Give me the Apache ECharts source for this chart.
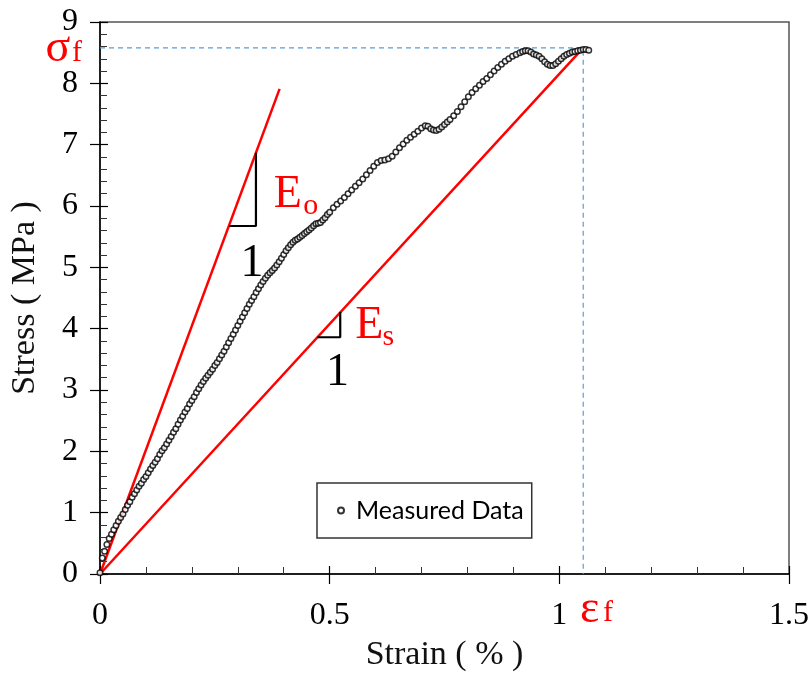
<!DOCTYPE html>
<html><head><meta charset="utf-8">
<script src="https://cdn.jsdelivr.net/npm/echarts@6/dist/echarts.min.js"></script>
<style>html,body{margin:0;padding:0;background:#fff}#c{width:812px;height:681px}</style>
</head><body><div id="c"></div>
<script>
// ---- data ----
const strain = [0.000,0.005,0.010,0.015,0.020,0.025,0.030,0.035,0.040,0.045,0.050,0.055,0.060,0.065,0.070,0.075,0.080,0.085,0.090,0.095,
0.100,0.105,0.110,0.115,0.120,0.125,0.130,0.135,0.140,0.145,0.150,0.155,0.160,0.165,0.170,0.175,0.180,0.185,0.190,0.195,
0.200,0.205,0.210,0.215,0.220,0.225,0.230,0.235,0.240,0.245,0.250,0.255,0.260,0.265,0.270,0.275,0.280,0.285,0.290,0.295,
0.300,0.305,0.310,0.315,0.320,0.325,0.330,0.335,0.340,0.345,0.350,0.355,0.360,0.365,0.370,0.375,0.380,0.385,0.390,0.395,
0.400,0.405,0.410,0.415,0.420,0.425,0.430,0.435,0.440,0.445,0.450,0.455,0.460,0.465,0.470,0.475,0.480,0.485,0.490,0.495,0.500,
0.508,0.516,0.524,0.532,0.540,0.548,0.556,0.564,0.572,0.580,0.588,0.596,0.604,0.612,0.620,0.628,0.636,0.644,0.652,0.660,
0.668,0.676,0.684,0.692,0.700,0.708,0.714,0.720,0.726,0.732,0.738,0.744,0.750,0.756,0.762,0.770,0.778,0.786,0.794,0.802,
0.810,0.818,0.826,0.834,0.842,0.850,0.858,0.866,0.874,0.882,0.890,0.898,0.906,0.914,0.920,0.926,0.932,0.938,0.944,0.950,
0.956,0.962,0.968,0.974,0.980,0.986,0.992,0.998,1.004,1.010,1.016,1.022,1.028,1.034,1.040,1.046,1.052,1.058,1.064];
const stress = [0.02,0.26,0.37,0.48,0.58,0.65,0.72,0.79,0.86,0.92,0.98,1.05,1.12,1.18,1.25,1.31,1.37,1.43,1.48,1.54,
1.59,1.65,1.71,1.77,1.82,1.88,1.95,2.01,2.06,2.12,2.18,2.24,2.31,2.37,2.44,2.51,2.57,2.64,2.70,2.77,
2.83,2.89,2.96,3.02,3.08,3.14,3.19,3.24,3.29,3.34,3.40,3.45,3.51,3.57,3.63,3.70,3.77,3.84,3.91,3.98,
4.05,4.12,4.19,4.26,4.33,4.40,4.46,4.52,4.59,4.65,4.71,4.77,4.82,4.87,4.91,4.95,4.99,5.04,5.09,5.15,
5.21,5.27,5.32,5.37,5.41,5.44,5.46,5.49,5.52,5.55,5.58,5.61,5.64,5.68,5.71,5.72,5.73,5.77,5.81,5.86,5.90,
5.97,6.03,6.08,6.14,6.20,6.26,6.32,6.38,6.44,6.51,6.58,6.65,6.71,6.74,6.75,6.77,6.81,6.88,6.95,7.01,
7.07,7.12,7.17,7.22,7.27,7.31,7.30,7.26,7.24,7.23,7.25,7.29,7.33,7.37,7.41,7.47,7.54,7.62,7.70,7.78,
7.85,7.91,7.97,8.03,8.08,8.14,8.20,8.26,8.31,8.36,8.40,8.44,8.47,8.50,8.52,8.53,8.53,8.51,8.48,8.46,
8.44,8.40,8.35,8.31,8.29,8.29,8.32,8.36,8.40,8.44,8.47,8.49,8.51,8.52,8.53,8.54,8.55,8.55,8.54];

const eoStrain = [0, 0.391];
const eoStress = [0, 7.91];
const esStrain = [0, 1.052];
const esStress = [0, 8.577];
const failStrain = 1.052;
const failStress = 8.577;
const eoTriStrain = [0.281, 0.3395, 0.3395];
const eoTriStress = [5.674, 5.674, 6.87];
const esTriStrain = [0.4735, 0.523, 0.523];
const esTriStress = [3.86, 3.86, 4.27];

const xName = 'Strain ( % )';
const yName = 'Stress ( MPa )';
const seriesName = 'Measured Data';

// ---- chart ----
const zip = (a, b) => a.map((v, i) => [v, b[i]]);
const serif = 'Liberation Serif';
const chart = echarts.init(document.getElementById('c'), null, {renderer: 'canvas'});

function txt(x, y, text, size, color) {
  return {
    value: [x, y],
    label: {show: true, position: 'inside', formatter: text, fontFamily: serif,
            fontSize: size, color: color, align: 'center', verticalAlign: 'middle',
            textBorderWidth: 0, textBorderColor: 'transparent', opacity: 1}
  };
}

const option = {
  animation: false,
  backgroundColor: '#fff',
  grid: {left: 97, right: 22, top: 22, bottom: 107, show: true,
         borderColor: '#555', borderWidth: 1.5, backgroundColor: 'transparent'},
  legend: {
    data: [{name: seriesName, icon: 'circle'}],
    left: 317, top: 483,
    itemWidth: 6, itemHeight: 6,
    padding: [15, 8, 15, 20],
    borderColor: '#333', borderWidth: 1.5, borderRadius: 0,
    textStyle: {fontFamily: 'Lato', fontSize: 25, color: '#000', padding: [0, 0, 0, 7]}
  },
  xAxis: [{
    type: 'value', min: 0, max: 1.5, interval: 0.5,
    name: xName, nameLocation: 'middle', nameGap: 64,
    nameTextStyle: {fontFamily: serif, fontSize: 34, color: '#111'},
    axisLine: {show: true, onZero: false, lineStyle: {color: '#000', width: 1.5}},
    axisTick: {show: true, inside: true, length: 8, lineStyle: {color: '#000', width: 1.2}},
    minorTick: {show: true, splitNumber: 5, length: 7, lineStyle: {color: '#333', width: 1}},
    axisLabel: {fontFamily: serif, fontSize: 32, color: '#000', margin: 26},
    splitLine: {show: false}
  }, {
    type: 'value', min: 0, max: 1.5, interval: 0.5, position: 'bottom',
    axisLine: {show: false, onZero: false},
    axisTick: {show: true, inside: false, length: 10, lineStyle: {color: '#000', width: 1.2}},
    axisLabel: {show: false}, splitLine: {show: false}
  }],
  yAxis: [{
    type: 'value', min: 0, max: 9, interval: 1,
    name: yName, nameLocation: 'middle', nameGap: 58, nameRotate: 90,
    nameTextStyle: {fontFamily: serif, fontSize: 34, color: '#111'},
    axisLine: {show: true, onZero: false, lineStyle: {color: '#000', width: 1.5}},
    axisTick: {show: true, inside: true, length: 8, lineStyle: {color: '#000', width: 1.2}},
    minorTick: {show: true, splitNumber: 5, length: 7, lineStyle: {color: '#333', width: 1}},
    axisLabel: {fontFamily: serif, fontSize: 32, color: '#000', margin: 22},
    splitLine: {show: false}
  }, {
    type: 'value', min: 0, max: 9, interval: 1, position: 'left',
    axisLine: {show: false, onZero: false},
    axisTick: {show: true, inside: false, length: 10, lineStyle: {color: '#000', width: 1.2}},
    axisLabel: {show: false}, splitLine: {show: false}
  }],
  series: [
    {
      type: 'line', name: 'fail', data: [[0, failStress], [failStrain, failStress], [failStrain, 0]],
      symbol: 'none', lineStyle: {color: '#5b9bd5', width: 1.2, type: [5, 4]}, z: 1, silent: true
    },
    {
      type: 'line', name: 'Eo', data: zip(eoStrain, eoStress), symbol: 'none',
      lineStyle: {color: '#ff0000', width: 2.5}, z: 2
    },
    {
      type: 'line', name: 'Es', data: zip(esStrain, esStress), symbol: 'none',
      lineStyle: {color: '#ff0000', width: 2.5}, z: 2
    },
    {
      type: 'line', name: 'triO', data: zip(eoTriStrain, eoTriStress), symbol: 'none',
      lineStyle: {color: '#000', width: 2.2}, z: 2
    },
    {
      type: 'line', name: 'triS', data: zip(esTriStrain, esTriStress), symbol: 'none',
      lineStyle: {color: '#000', width: 2.2}, z: 2
    },
    {
      type: 'scatter', name: seriesName, data: zip(strain, stress),
      symbol: 'circle', symbolSize: 5.5,
      itemStyle: {color: '#fff', borderColor: '#000', borderWidth: 1.5}, z: 3
    },
    {
      type: 'scatter', name: 'labels', symbolSize: 0, clip: false, silent: true, z: 5,
      itemStyle: {opacity: 1},
      data: [
        txt(0.4088, 6.18, 'E', 46, '#ff0000'),
        txt(0.4586, 6.00, 'o', 30, '#ff0000'),
        txt(0.3308, 5.055, '1', 46, '#000'),
        txt(0.5865, 4.044, 'E', 46, '#ff0000'),
        txt(0.6276, 3.864, 's', 30, '#ff0000'),
        txt(0.5171, 3.277, '1', 46, '#000'),
        txt(-0.0916, 8.56, 'σ', 46, '#ff0000'),
        txt(-0.050, 8.49, 'f', 30, '#ff0000'),
        txt(1.0660, -0.58, 'ε', 46, '#ff0000'),
        txt(1.1057, -0.64, 'f', 30, '#ff0000')
      ]
    }
  ]
};
chart.setOption(option);
</script>
</body></html>
